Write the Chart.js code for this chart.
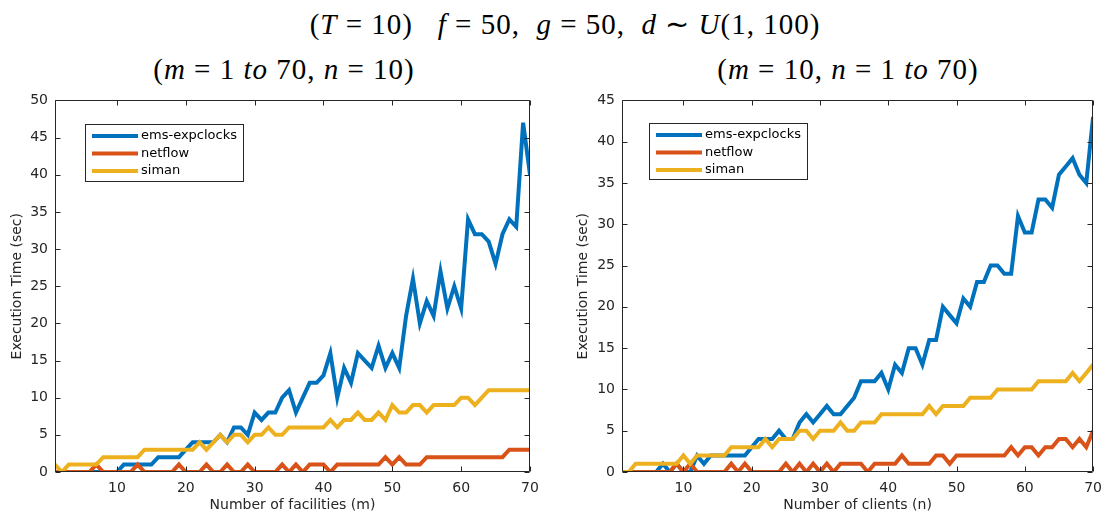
<!DOCTYPE html>
<html>
<head>
<meta charset="utf-8">
<script src="https://cdn.jsdelivr.net/npm/chart.js@4.4.1/dist/chart.umd.min.js"></script>
<style>
  body { margin: 0; background: #fff; width: 1110px; height: 515px; position: relative; overflow: hidden; }
  .tit { position: absolute; font-family: 'Liberation Serif', serif; font-size: 29px; letter-spacing: 1px; color: #000; white-space: nowrap; line-height: 34px; }
  canvas { position: absolute; top: 85px; }
</style>
</head>
<body>
<div class="tit" style="left:10px; width:1110px; top:7px; text-align:center;">(<i>T</i> = 10)&nbsp;&nbsp; <i>f</i> = 50,&nbsp; <i>g</i> = 50,&nbsp; <i>d</i> ∼ <i>U</i>(1, 100)</div>
<div class="tit" style="left:84px; width:400px; top:52px; text-align:center;">(<i>m</i> = 1 <i>to</i> 70, <i>n</i> = 10)</div>
<div class="tit" style="left:648px; width:400px; top:52px; text-align:center;">(<i>m</i> = 10, <i>n</i> = 1 <i>to</i> 70)</div>

<canvas id="grafFacilities" width="550" height="430" style="left:0px;"></canvas>
<canvas id="grafClients" width="544" height="430" style="left:566px;"></canvas>

<script>
// eje x: 1..70 en ambos gráficos
const xValores = Array.from({ length: 70 }, (_, i) => i + 1);
const xTicks = [10, 20, 30, 40, 50, 60, 70];
const seriesNombres = ['ems-expclocks', 'netflow', 'siman'];

// (m = 1 to 70, n = 10)
const facEms = [
  0, 0, 0, 0, 0, 0, 0, 0, 0, 0,
  1, 1, 1, 1, 1, 2, 2, 2, 2, 3,
  4, 4, 4, 4, 5, 4, 6, 6, 5, 8,
  7, 8, 8, 10, 11, 8, 10, 12, 12, 13,
  16, 10, 14, 12, 16, 15, 14, 17, 14, 16,
  14, 21, 26, 20, 23, 21, 27, 22, 25, 22,
  34, 32, 32, 31, 28, 32, 34, 33, 47, 40
];
const facNetflow = [
  0, 0, 0, 0, 0, 0, 1, 0, 0, 0,
  0, 0, 1, 0, 0, 0, 0, 0, 1, 0,
  0, 0, 1, 0, 0, 1, 0, 0, 1, 0,
  0, 0, 0, 1, 0, 1, 0, 1, 1, 1,
  0, 1, 1, 1, 1, 1, 1, 1, 2, 1,
  2, 1, 1, 1, 2, 2, 2, 2, 2, 2,
  2, 2, 2, 2, 2, 2, 3, 3, 3, 3
];
const facSiman = [
  1, 0, 1, 1, 1, 1, 1, 2, 2, 2,
  2, 2, 2, 3, 3, 3, 3, 3, 3, 3,
  3, 4, 3, 4, 5, 4, 5, 5, 4, 5,
  5, 6, 5, 5, 6, 6, 6, 6, 6, 6,
  7, 6, 7, 7, 8, 7, 7, 8, 7, 9,
  8, 8, 9, 9, 8, 9, 9, 9, 9, 10,
  10, 9, 10, 11, 11, 11, 11, 11, 11, 11
];

// (m = 10, n = 1 to 70)
const cliEms = [
  0, 0, 0, 0, 0, 0, 1, 0, 1, 0,
  0, 2, 1, 2, 2, 2, 2, 2, 2, 3,
  4, 4, 4, 5, 4, 4, 6, 7, 6, 7,
  8, 7, 7, 8, 9, 11, 11, 11, 12, 10,
  13, 12, 15, 15, 13, 16, 16, 20, 19, 18,
  21, 20, 23, 23, 25, 25, 24, 24, 31, 29,
  29, 33, 33, 32, 36, 37, 38, 36, 35, 43
];
const cliNetflow = [
  0, 0, 0, 0, 0, 0, 0, 0, 1, 0,
  1, 0, 0, 0, 0, 0, 1, 0, 1, 0,
  0, 0, 0, 0, 1, 0, 1, 0, 1, 0,
  1, 0, 1, 1, 1, 1, 0, 1, 1, 1,
  1, 2, 1, 1, 1, 1, 2, 2, 1, 2,
  2, 2, 2, 2, 2, 2, 2, 3, 2, 3,
  3, 2, 3, 3, 4, 4, 3, 4, 3, 5
];
const cliSiman = [
  0, 0, 1, 1, 1, 1, 1, 1, 1, 2,
  1, 2, 2, 2, 2, 2, 3, 3, 3, 3,
  3, 4, 3, 4, 4, 4, 5, 5, 4, 5,
  5, 5, 6, 5, 5, 6, 6, 6, 7, 7,
  7, 7, 7, 7, 7, 8, 7, 8, 8, 8,
  8, 9, 9, 9, 9, 10, 10, 10, 10, 10,
  10, 11, 11, 11, 11, 11, 12, 11, 12, 13
];

const colores = ['#0072BD', '#D95319', '#EDB120'];
const gris = '#262626';
const fuente = { family: 'DejaVu Sans', size: 14 };

// Caja de ejes con ticks hacia adentro (estilo MATLAB)
const marcoPlugin = {
  id: 'marco',
  afterDatasetsDraw(chart) {
    const { ctx, chartArea: a, scales: { x, y } } = chart;
    const L = Math.round(a.left) + 0.5, R = Math.round(a.right) - 0.5;
    const T = Math.round(a.top) + 0.5, B = Math.round(a.bottom) - 0.5;
    ctx.save();
    ctx.strokeStyle = gris;
    ctx.lineWidth = 1;
    ctx.beginPath();
    ctx.rect(L, T, R - L, B - T);
    x.ticks.forEach(t => {
      const px = Math.round(x.getPixelForValue(t.value)) + 0.5;
      ctx.moveTo(px, B); ctx.lineTo(px, B - 5);
      ctx.moveTo(px, T); ctx.lineTo(px, T + 5);
    });
    y.ticks.forEach(t => {
      const py = Math.round(y.getPixelForValue(t.value)) + 0.5;
      ctx.moveTo(L, py); ctx.lineTo(L + 5, py);
      ctx.moveTo(R, py); ctx.lineTo(R - 5, py);
    });
    ctx.stroke();
    ctx.restore();
  }
};

// Leyenda dentro del área, arriba a la izquierda
const leyendaPlugin = {
  id: 'leyenda',
  afterDatasetsDraw(chart, args, opts) {
    const { ctx, chartArea: a } = chart;
    const x0 = Math.round(a.left + opts.dx), y0 = Math.round(a.top + opts.dy);
    ctx.save();
    ctx.fillStyle = '#fff';
    ctx.fillRect(x0, y0, opts.w, opts.h);
    ctx.strokeStyle = gris;
    ctx.lineWidth = 1;
    ctx.strokeRect(x0 + 0.5, y0 + 0.5, opts.w, opts.h);
    ctx.font = '13px "DejaVu Sans"';
    ctx.textBaseline = 'middle';
    chart.data.datasets.forEach((ds, i) => {
      const yy = y0 + 12 + i * 17.5;
      ctx.strokeStyle = ds.borderColor;
      ctx.lineWidth = 4;
      ctx.beginPath();
      ctx.moveTo(x0 + 7, yy);
      ctx.lineTo(x0 + 53, yy);
      ctx.stroke();
      ctx.fillStyle = '#000';
      ctx.fillText(ds.label, x0 + 56, yy);
    });
    ctx.restore();
  }
};

function crearGrafico(id, series, yMax, xTitulo, anchoY, padDer, leyenda) {
  const ctx = document.getElementById(id).getContext('2d');
  return new Chart(ctx, {
    type: 'line',
    data: {
      datasets: series.map((s, i) => ({
        label: seriesNombres[i],
        data: s.map((v, k) => ({ x: xValores[k], y: v })),
        borderColor: colores[i],
        backgroundColor: colores[i],
        borderWidth: 4,
        borderJoinStyle: 'miter',
        pointRadius: 0,
        tension: 0,
        order: 2 - i
      }))
    },
    options: {
      responsive: false,
      animation: false,
      events: [],
      layout: { padding: { top: 14, right: padDer, left: 0, bottom: 0 } },
      plugins: {
        legend: { display: false },
        tooltip: { enabled: false },
        leyenda
      },
      scales: {
        x: {
          type: 'linear', min: 1, max: 70,
          afterBuildTicks: s => { s.ticks = xTicks.map(v => ({ value: v })); },
          afterFit: s => { s.height = 43; },
          grid: { display: false, drawTicks: false },
          border: { display: false },
          ticks: { color: gris, font: fuente, padding: 8, maxRotation: 0, autoSkip: false },
          title: { display: true, text: xTitulo, color: gris, font: fuente, padding: { top: 0, bottom: 1 } }
        },
        y: {
          min: 0, max: yMax,
          afterFit: s => { s.width = anchoY; },
          grid: { display: false, drawTicks: false },
          border: { display: false },
          ticks: { stepSize: 5, color: gris, font: fuente, padding: 7 },
          title: { display: true, text: 'Execution Time (sec)', color: gris, font: fuente, padding: { top: 9, bottom: 0 } }
        }
      }
    },
    plugins: [marcoPlugin, leyendaPlugin]
  });
}

window.graficoFacilities = crearGrafico('grafFacilities', [facEms, facNetflow, facSiman], 50,
  'Number of facilities (m)', 55, 20, { dx: 30, dy: 24, w: 158, h: 57 });
window.graficoClients = crearGrafico('grafClients', [cliEms, cliNetflow, cliSiman], 45,
  'Number of clients (n)', 56, 13, { dx: 27, dy: 23, w: 158, h: 56 });
</script>
</body>
</html>
